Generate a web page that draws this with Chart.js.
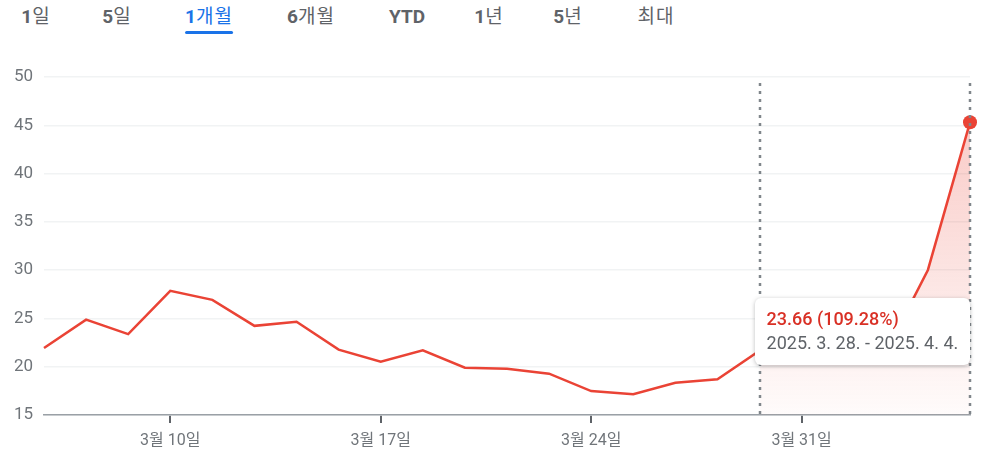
<!DOCTYPE html>
<html>
<head>
<meta charset="utf-8">
<script src="https://cdn.jsdelivr.net/npm/chart.js@4.4.1/dist/chart.umd.min.js"></script>
<style>
  body { margin: 0; background: #fff; font-family: Roboto, "Noto Sans CJK KR", sans-serif; }
  .wrap { position: relative; width: 983px; height: 450px; overflow: hidden; }
  .tabs { position: absolute; top: 5px; left: 0; height: 30px; }
  .tab { position: absolute; top: 0; font-size: 19px; line-height: 24px; font-weight: 400; color: #5f6368; transform: translateX(-50%); white-space: nowrap; letter-spacing: 1px; }
  .tab b { font-weight: 700; letter-spacing: 0; }
  .tab.active { color: #1a73e8; }
  .tab.active::after { content: ''; position: absolute; left: 0; right: 0; top: 26px; height: 3px; border-radius: 2px; background: #1a73e8; }
  .chartbox { position: absolute; left: 0; top: 60px; width: 983px; height: 390px; }
  .tip { position: absolute; background: #fff; border-radius: 6px; box-shadow: 0 1px 4px rgba(60,64,67,0.35); padding: 9px 12px 10px 12px; font-size: 18px; line-height: 24px; white-space: nowrap; }
  .tip .v { color: #d93025; font-weight: 500; }
  .tip .d { color: #5f6368; }
</style>
</head>
<body>
<div class="wrap">
  <div class="tabs" id="tabs"></div>
  <div class="chartbox"><canvas id="vixChart"></canvas></div>
  <div class="tip" id="tip"><div class="v">23.66 (109.28%)</div><div class="d">2025. 3. 28. - 2025. 4. 4.</div></div>
</div>
<script>
const TABS = ['1일', '5일', '1개월', '6개월', 'YTD', '1년', '5년', '최대'];
const TAB_X = [36, 117, 209, 311, 407, 489, 568, 656];

const dates = ['3/5', '3/6', '3/7', '3/10', '3/11', '3/12', '3/13', '3/14', '3/17', '3/18', '3/19',
  '3/20', '3/21', '3/24', '3/25', '3/26', '3/27', '3/28', '3/31', '4/1', '4/2', '4/3', '4/4'];
const closes = [21.93, 24.87, 23.37, 27.86, 26.92, 24.23, 24.66, 21.77, 20.51, 21.70, 19.90,
  19.80, 19.28, 17.48, 17.15, 18.33, 18.69, 21.65, 22.28, 21.77, 21.51, 30.02, 45.31];
const tickLabels = { '3/10': '3월 10일', '3/17': '3월 17일', '3/24': '3월 24일', '3/31': '3월 31일' };
const rangeStart = 17; // 3/28
const rangeEnd = 22;   // 4/4

// tabs: latin part bold, hangul regular
const tabsEl = document.getElementById('tabs');
TABS.forEach((t, i) => {
    const d = document.createElement('div');
    d.className = 'tab' + (i === 2 ? ' active' : '');
    d.style.left = TAB_X[i] + 'px';
    const m = t.match(/^([0-9A-Z]*)(.*)$/);
    if (m[1]) {
        const b = document.createElement('b');
        b.textContent = m[1];
        d.appendChild(b);
    }
    d.appendChild(document.createTextNode(m[2]));
    tabsEl.appendChild(d);
});

const rangeFill = closes.map((v, i) => (i >= rangeStart && i <= rangeEnd) ? v : null);

// dotted markers for the selected range
const rangeLines = {
    id: 'rangeLines',
    afterDatasetsDraw(chart) {
        const ctx = chart.ctx;
        const x = chart.scales.x;
        const area = chart.chartArea;
        ctx.save();
        ctx.strokeStyle = '#80868b';
        ctx.lineWidth = 2.5;
        ctx.setLineDash([3, 5]);
        [rangeStart, rangeEnd].forEach(i => {
            const px = Math.round(x.getPixelForValue(i));
            ctx.beginPath();
            ctx.moveTo(px, area.top + 6);
            ctx.lineTo(px, area.bottom);
            ctx.stroke();
        });
        ctx.restore();
    },
    afterRender(chart) {
        const x = chart.scales.x;
        const tip = document.getElementById('tip');
        tip.style.left = (x.getPixelForValue(rangeStart) - 5) + 'px';
        tip.style.top = '298px';
    }
};

const ctx = document.getElementById('vixChart').getContext('2d');
new Chart(ctx, {
    type: 'line',
    data: {
        labels: dates,
        datasets: [{
            data: closes,
            borderColor: '#ea4335',
            borderWidth: 2.5,
            fill: false,
            tension: 0,
            pointRadius: c => c.dataIndex === rangeEnd ? 7 : 0,
            pointBackgroundColor: '#ea4335',
            pointBorderWidth: 0,
            order: 0
        }, {
            data: rangeFill,
            borderWidth: 0,
            pointRadius: 0,
            fill: 'start',
            tension: 0,
            backgroundColor: c => {
                const area = c.chart.chartArea;
                if (!area) return 'rgba(234,67,53,0.15)';
                const g = c.chart.ctx.createLinearGradient(0, area.top + 40, 0, area.bottom);
                g.addColorStop(0, 'rgba(234,67,53,0.28)');
                g.addColorStop(1, 'rgba(234,67,53,0.02)');
                return g;
            },
            order: 1
        }]
    },
    options: {
        responsive: true,
        maintainAspectRatio: false,
        animation: false,
        clip: false,
        layout: { padding: { top: 17, right: 13, left: 0, bottom: 0 } },
        plugins: { legend: { display: false }, tooltip: { enabled: false } },
        scales: {
            x: {
                offset: false,
                border: { color: '#9aa0a6', width: 1.5 },
                grid: {
                    drawOnChartArea: false,
                    drawTicks: true,
                    tickLength: 8,
                    lineWidth: 2,
                    color: c => (c.tick && tickLabels[dates[c.index]]) ? '#5f6368' : 'rgba(0,0,0,0)'
                },
                ticks: {
                    autoSkip: false,
                    maxRotation: 0,
                    padding: 8,
                    color: '#70757a',
                    font: { size: 16, family: 'Roboto, "Noto Sans CJK KR", sans-serif' },
                    callback: (v, i) => tickLabels[dates[i]] || ''
                },
                afterFit: s => { s.height = 35; s.paddingLeft = 0; s.paddingRight = 0; }
            },
            y: {
                min: 15,
                max: 50,
                border: { display: false },
                grid: { color: '#f1f3f4', lineWidth: 1.5, drawTicks: false },
                ticks: {
                    stepSize: 5,
                    padding: 11,
                    color: '#70757a',
                    font: { size: 17, family: 'Roboto, "Noto Sans CJK KR", sans-serif' }
                },
                afterFit: s => { s.width = 44; s.paddingTop = 0; s.paddingBottom = 0; }
            }
        }
    },
    plugins: [rangeLines]
});
</script>
</body>
</html>
